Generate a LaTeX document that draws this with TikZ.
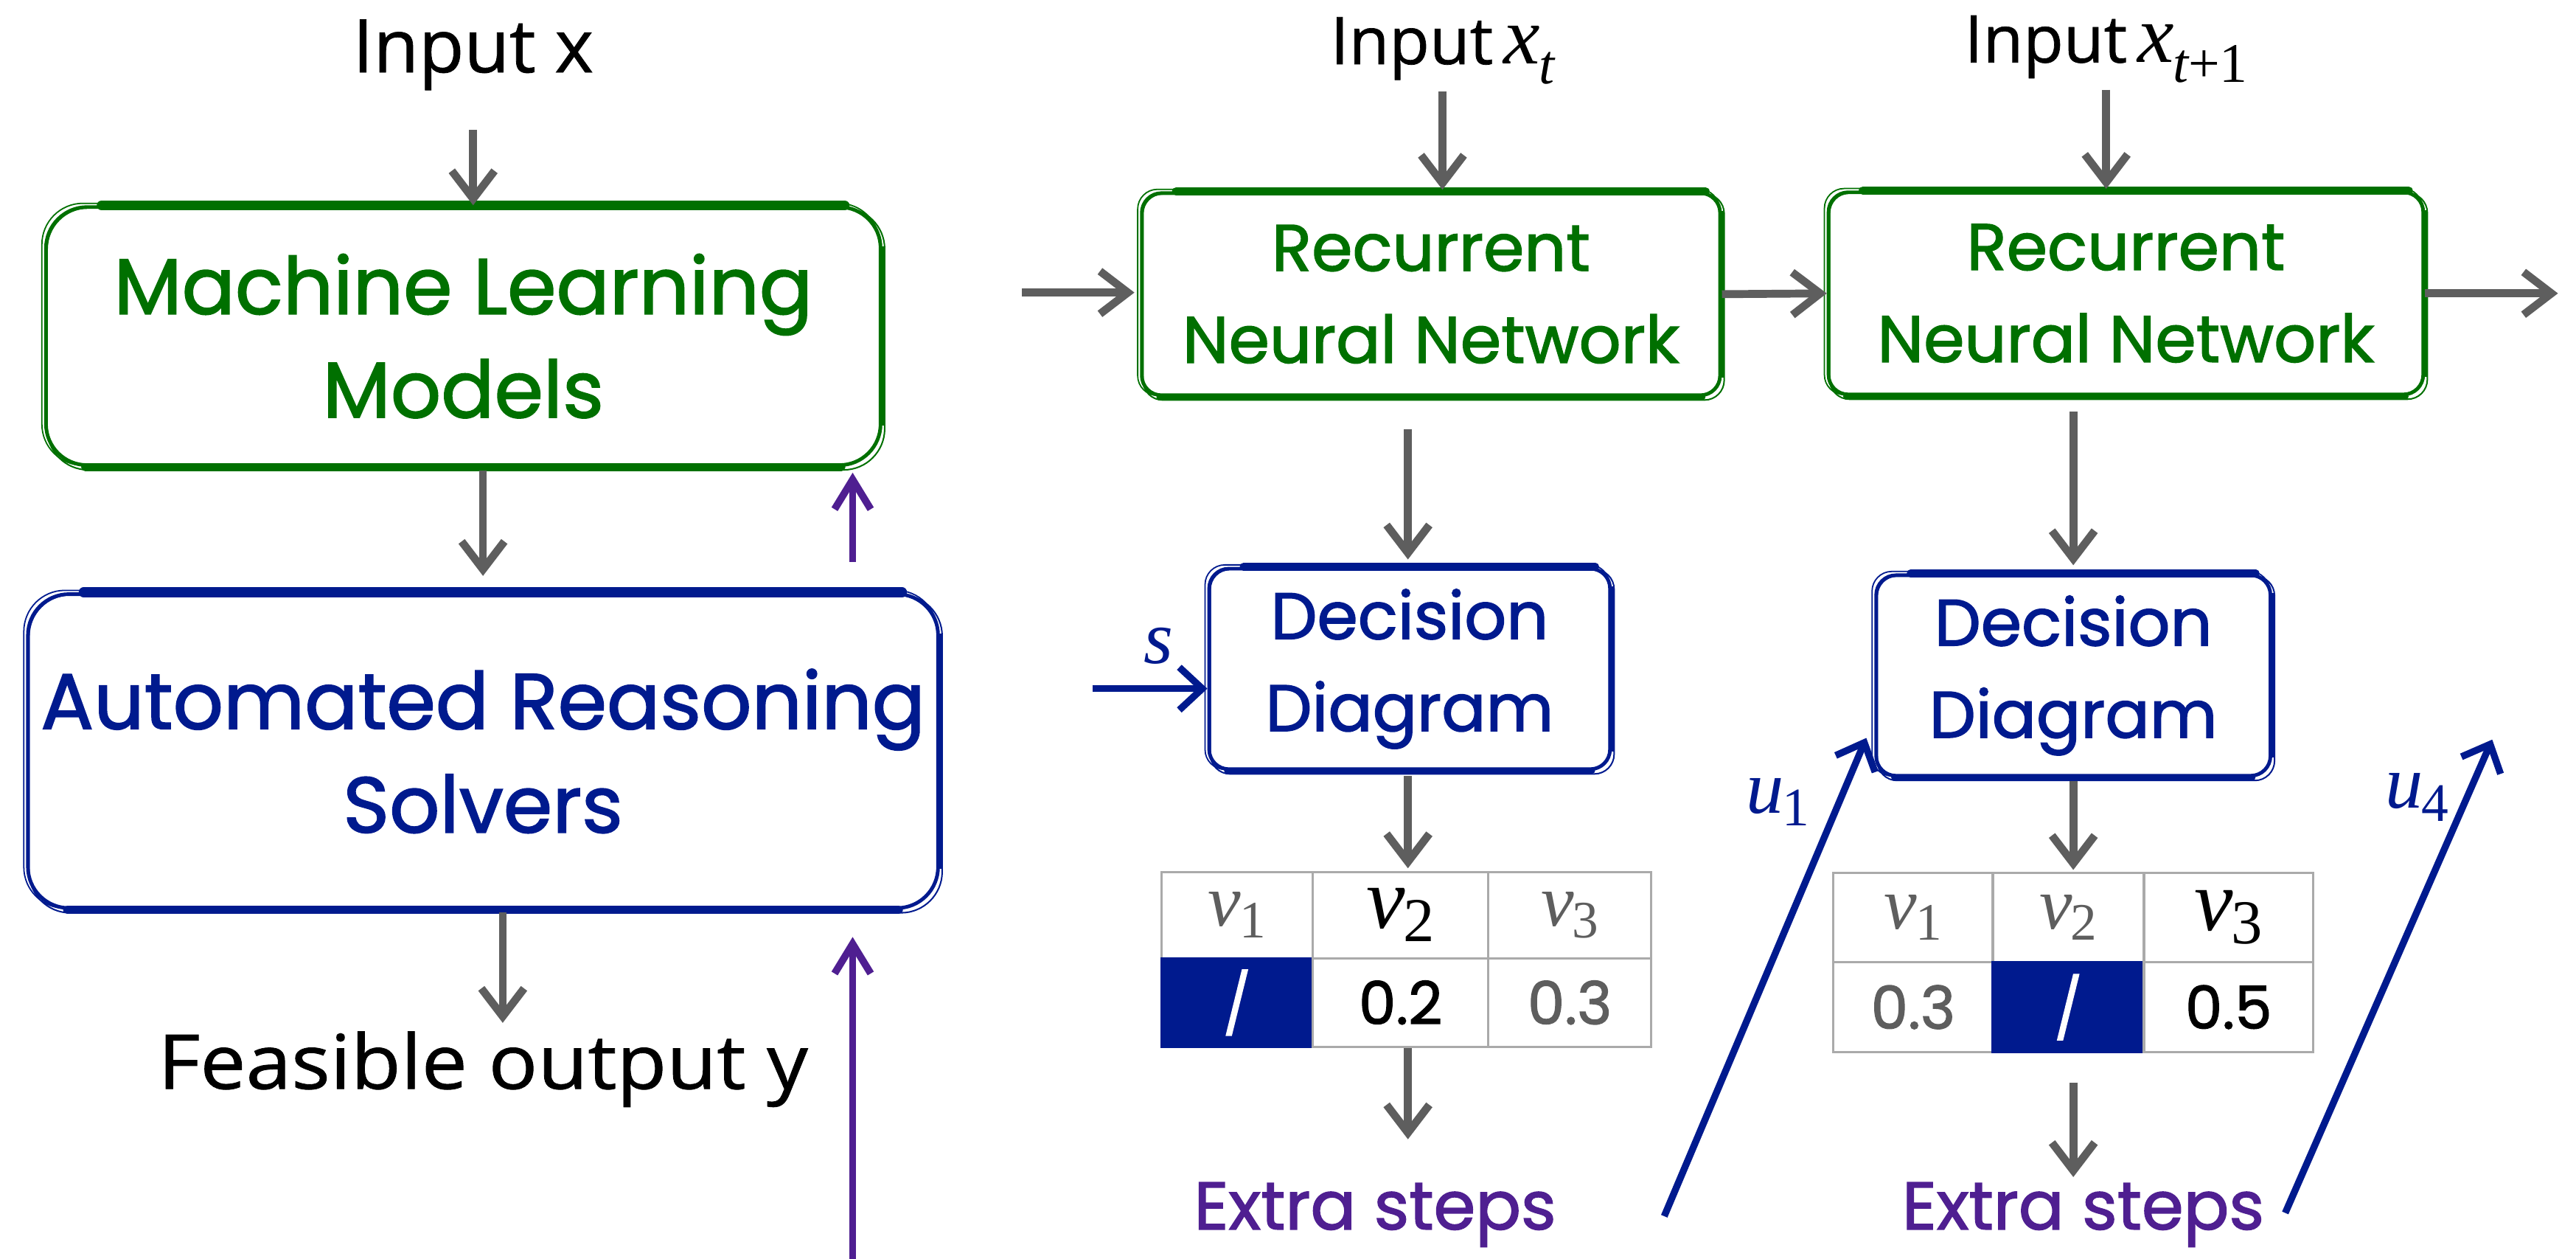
\documentclass[tikz,border=0pt]{standalone}
\usepackage{fontspec}
\usetikzlibrary{arrows.meta,calc}
\setmainfont{Poppins}[FakeBold=1.6]
\newfontfamily\plainsans{Open Sans}[FakeBold=0.8]
\newfontfamily\tms{Liberation Serif}

\definecolor{mlgreen}{HTML}{007000}
\definecolor{arblue}{HTML}{001A8E}
\definecolor{steppurple}{HTML}{4F1F91}
\definecolor{arrowgray}{HTML}{5E5E5E}
\definecolor{gridgray}{HTML}{AAAAAA}
\definecolor{softgray}{HTML}{5E5E5E}

% italic symbol with a lowered index: base size, letter, index size, index, drop
\newcommand\symsub[5]{{\tms\itshape\fontsize{#1}{#1}\selectfont #2}\kern-1pt\raisebox{-#5}{\tms\fontsize{#3}{#3}\selectfont #4}}

% hand-drawn look of a frame: a second thin outline and heavier top, bottom and right strokes
\newcommand\sketchframe[4]{%
  \draw[#2, line width=0.9pt, rounded corners=#3]
    ([shift={(1.8,1.6)}]#1.north west) rectangle ([shift={(1.4,1.8)}]#1.south east);
  \draw[#2, line width=0.8pt, rounded corners=#3]
    ([shift={(-1.4,-1.2)}]#1.north west) rectangle ([shift={(-1.6,-1)}]#1.south east);
  \draw[#2, line width=#4, line cap=round] ([xshift=#3+10]#1.north west) -- ([xshift=-#3+2]#1.north east);
  \draw[#2, line width=#4-1pt, line cap=round] ([xshift=#3]#1.south west) -- ([xshift=-#3]#1.south east);
  \draw[#2, line width=3.4pt] ([yshift=-#3]#1.north east) -- ([yshift=#3]#1.south east);
}

\begin{document}
\begin{tikzpicture}[x=1pt, y=-1pt,
  roughbox/.style={draw=#1, text=#1, fill=white, line width=2.2pt, align=center, inner sep=0pt},
  txt/.style={inner sep=0pt, anchor=base},
  cell/.style={draw=gridgray, line width=1.4pt, inner sep=0pt},
  navycell/.style={cell, fill=arblue, draw=arblue, text=white},
  garrow/.style={draw=arrowgray, line width=4.8pt, -{Straight Barb[length=17pt, width=26pt]}},
  parrow/.style={draw=steppurple, line width=4.4pt, -{Straight Barb[length=18pt, width=22pt]}},
  barrow/.style={draw=arblue, line width=4.2pt, -{Straight Barb[length=14pt, width=26pt]}},
  bigfont/.style={font=\fontsize{48}{63}\selectfont},
  midfont/.style={font=\fontsize{40}{56}\selectfont},
]
\useasboundingbox (0,0) rectangle (1568,766);

% ---------- left: learning model coupled with a solver ----------
\node[txt, font=\plainsans\fontsize{45}{54}\selectfont] (inx) at (288,44) {Input x};
\node[roughbox=mlgreen, rounded corners=25, bigfont, minimum width=508, minimum height=157]
  (ml) at (282,204.5) {Machine Learning\\Models};
\node[roughbox=arblue, rounded corners=25, bigfont, minimum width=554, minimum height=191]
  (ar) at (294,457) {Automated Reasoning\\Solvers};
\node[txt, font=\plainsans\fontsize{46}{54}\selectfont] (out) at (294,662.5)
  {\scalebox{1.08}[1]{Feasible output y}};
\sketchframe{ml}{mlgreen}{25}{6pt}
\sketchframe{ar}{arblue}{25}{6pt}

\draw[garrow, shorten <=24] (inx.south) -- (inx.south |- ml.north);
\draw[garrow, shorten <=2, shorten >=10] ([xshift=12]ml.south) -- ([xshift=12]ml.south |- ar.north);
\draw[parrow, shorten <=18.5, shorten >=3.5] ([xshift=225]ar.north) -- ([xshift=225]ar.north |- ml.south);
\draw[garrow, shorten <=1.5, shorten >=5] ([xshift=12]ar.south) -- ([xshift=12]ar.south |- out.north);
\coordinate (loopin) at (519,766);
\draw[parrow, shorten >=16.5] (loopin) -- (loopin |- ar.south);

% ---------- right: unrolled recurrent network with decision diagrams ----------
\node[txt] (inxt) at (878,39)
  {\plainsans\fontsize{40}{48}\selectfont Input\,\symsub{50}{x}{34}{\itshape t}{12pt}};
\node[txt] (inxt1) at (1282,38)
  {\plainsans\fontsize{40}{48}\selectfont Input\,\symsub{50}{x}{34}{\itshape t\upshape+1}{12pt}};

\node[roughbox=mlgreen, rounded corners=12, midfont, minimum width=352, minimum height=123]
  (rnn1) at (871,179) {Recurrent\\Neural Network};
\node[roughbox=mlgreen, rounded corners=12, midfont, minimum width=362, minimum height=123]
  (rnn2) at (1294,178.5) {Recurrent\\Neural Network};
\sketchframe{rnn1}{mlgreen}{12}{5pt}
\sketchframe{rnn2}{mlgreen}{12}{5pt}

\node[roughbox=arblue, rounded corners=12, midfont, minimum width=244, minimum height=122]
  (dd1) at (858,407) {Decision\\Diagram};
\node[roughbox=arblue, rounded corners=12, midfont, minimum width=240, minimum height=122]
  (dd2) at (1262,411) {Decision\\Diagram};
\sketchframe{dd1}{arblue}{12}{4.6pt}
\sketchframe{dd2}{arblue}{12}{4.6pt}

% value tables
\begin{scope}[every node/.append style={font=\fontsize{36}{40}\selectfont}]
\node[cell, minimum width=92,  minimum height=52.5, text=softgray] (t1a) at (753,556.75) {\symsub{45}{v}{32}{1}{7pt}};
\node[cell, minimum width=107, minimum height=52.5] (t1b) at (852.5,556.75) {\symsub{53}{v}{38}{2}{8pt}};
\node[cell, minimum width=99,  minimum height=52.5, text=softgray] (t1c) at (955.5,556.75) {\symsub{45}{v}{32}{3}{7pt}};
\node[navycell, minimum width=92,  minimum height=54] (t1d) at (753,610) {/};
\node[cell, minimum width=107, minimum height=54] (t1e) at (852.5,610) {0.2};
\node[cell, minimum width=99,  minimum height=54, text=softgray] (t1f) at (955.5,610) {0.3};

\node[cell, minimum width=97,  minimum height=54.6, text=softgray] (t2a) at (1164.5,558.3) {\symsub{45}{v}{32}{1}{7pt}};
\node[cell, minimum width=92,  minimum height=54.6, text=softgray] (t2b) at (1259,558.3) {\symsub{45}{v}{32}{2}{7pt}};
\node[cell, minimum width=103, minimum height=54.6] (t2c) at (1356.5,558.3) {\symsub{53}{v}{38}{3}{8pt}};
\node[cell, minimum width=97,  minimum height=54.4, text=softgray] (t2d) at (1164.5,612.8) {0.3};
\node[navycell, minimum width=92,  minimum height=54.4] (t2e) at (1259,612.8) {/};
\node[cell, minimum width=103, minimum height=54.4] (t2f) at (1356.5,612.8) {0.5};
\end{scope}

\node[txt, text=steppurple, font=\fontsize{41}{48}\selectfont] (ex1) at (837,748) {Extra steps};
\node[txt, text=steppurple, font=\fontsize{41}{48}\selectfont] (ex2) at (1268,748) {Extra steps};

% recurrent chain
\coordinate (rnnin) at (622,178);
\coordinate (rnnout) at (1557,178);
\draw[garrow, shorten >=3.4] (rnnin) -- (rnnin -| rnn1.west);
\draw[garrow] (rnn1.east) -- (rnn2.west);
\draw[garrow] (rnn2.east) -- (rnnout |- rnn2.east);
\draw[garrow, shorten <=4, shorten >=1] (inxt.south) -- (inxt.south |- rnn1.north);
\draw[garrow, shorten <=4, shorten >=1] (inxt1.south) -- (inxt1.south |- rnn2.north);

% network -> diagram -> table -> extra steps
\draw[garrow, shorten <=19.4, shorten >=4.5] ([xshift=-14]rnn1.south) -- ([xshift=-14]rnn1.south |- dd1.north);
\draw[garrow, shorten <=9.4, shorten >=5] ([xshift=-32]rnn2.south) -- ([xshift=-32]rnn2.south |- dd2.north);
\draw[garrow, shorten <=3, shorten >=1.5] ([xshift=-1]dd1.south) -- ([xshift=-1]dd1.south |- t1b.north);
\draw[garrow, shorten >=26] ([xshift=4.5]t1e.south) -- ([xshift=4.5]t1e.south |- ex1.north);
\draw[garrow, shorten <=2, shorten >=1] (dd2.south) -- (dd2.south |- t2b.north);
\draw[garrow, shorten <=18, shorten >=3] ([xshift=3]t2e.south) -- ([xshift=3]t2e.south |- ex2.north);

% external inputs to the diagrams
\coordinate (sin) at (665,419);
\draw[barrow] (sin) -- (sin -| dd1.west);
\node[text=arblue, inner sep=0pt] (slab) at (705,393) {\tms\itshape\fontsize{46}{46}\selectfont s};

\coordinate (u1a) at (1013,740);
\coordinate (u1b) at (1136,449);
\draw[barrow] (u1a) -- (u1b);
\node[text=arblue, inner sep=0pt] (u1lab) at (1082,488) {\symsub{46}{u}{33}{1}{8pt}};

\coordinate (u4a) at (1391,738);
\coordinate (u4b) at (1517,450);
\draw[barrow] (u4a) -- (u4b);
\node[text=arblue, inner sep=0pt] (u4lab) at (1471,485) {\symsub{46}{u}{33}{4}{8pt}};
\end{tikzpicture}
\end{document}
